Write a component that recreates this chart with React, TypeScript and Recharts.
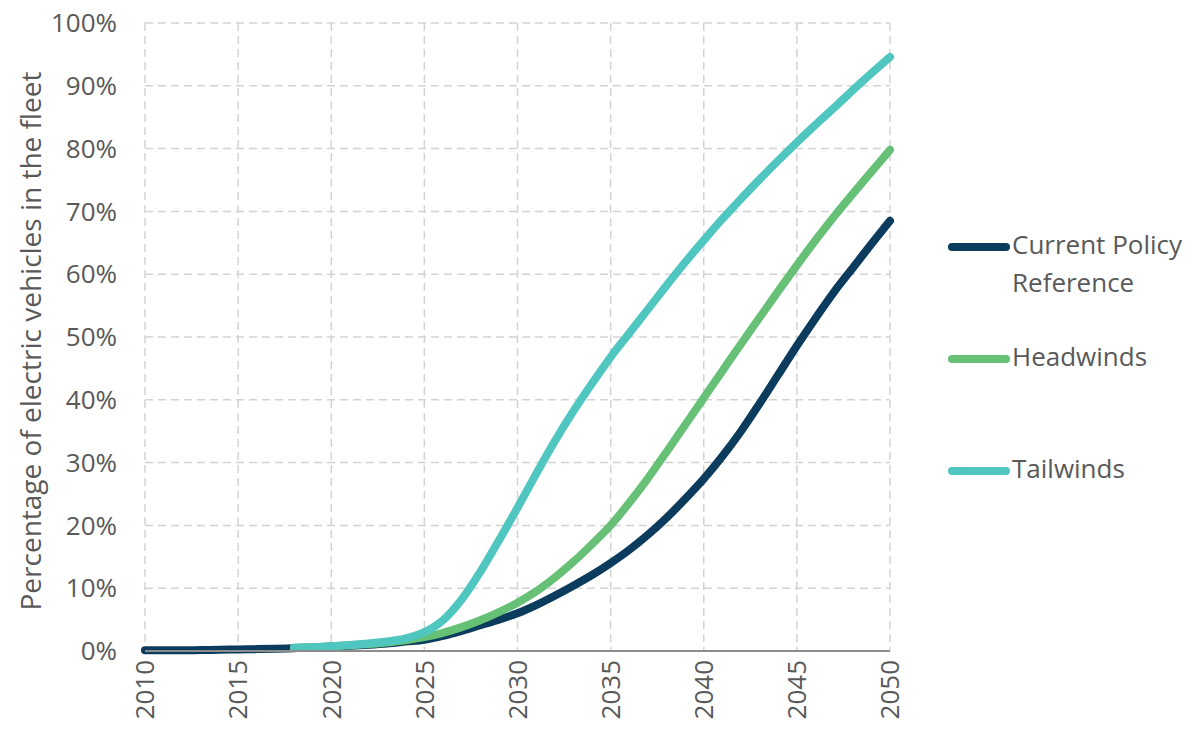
import { LineChart, Line, XAxis, YAxis, CartesianGrid } from "recharts";

const years = [
  2010, 2011, 2012, 2013, 2014, 2015, 2016, 2017, 2018, 2019,
  2020, 2021, 2022, 2023, 2024, 2025, 2026, 2027, 2028, 2029,
  2030, 2031, 2032, 2033, 2034, 2035, 2036, 2037, 2038, 2039,
  2040, 2041, 2042, 2043, 2044, 2045, 2046, 2047, 2048, 2049, 2050,
];

// share of EVs in the fleet, %
const currentPolicy = [
  0.1, 0.1, 0.1, 0.15, 0.2, 0.25, 0.3, 0.35, 0.45, 0.55,
  0.7, 0.85, 1.0, 1.2, 1.5, 1.8, 2.4, 3.2, 4.1, 5.0,
  6.0, 7.3, 8.8, 10.4, 12.1, 14.0, 16.1, 18.5, 21.2, 24.2,
  27.4, 31.0, 35.0, 39.4, 44.0, 48.6, 53.0, 57.2, 61.0, 64.8, 68.5,
];

const headwinds = [
  null, null, null, null, null, null, null, null, 0.5, 0.6,
  0.75, 0.9, 1.1, 1.35, 1.7, 2.2, 2.9, 3.8, 4.9, 6.2,
  7.7, 9.5, 11.7, 14.2, 17.0, 20.0, 23.6, 27.5, 31.7, 36.0,
  40.3, 44.6, 48.9, 53.1, 57.3, 61.4, 65.4, 69.2, 72.8, 76.3, 79.8,
];

const tailwinds = [
  null, null, null, null, null, null, null, null, 0.5, 0.6,
  0.75, 0.95, 1.2, 1.5, 2.0, 3.0, 4.9, 8.2, 12.6, 17.6,
  22.8, 28.2, 33.4, 38.2, 42.6, 46.8, 50.6, 54.4, 58.2, 61.9,
  65.4, 68.8, 72.0, 75.1, 78.1, 81.0, 83.8, 86.5, 89.3, 92.0, 94.6,
];

const yearTicks = [2010, 2015, 2020, 2025, 2030, 2035, 2040, 2045, 2050];
const shareTicks = [0, 10, 20, 30, 40, 50, 60, 70, 80, 90, 100];

const series = [
  { key: "current", label: ["Current Policy", "Reference"], color: "#0b3b5d" },
  { key: "headwinds", label: ["Headwinds"], color: "#66c177" },
  { key: "tailwinds", label: ["Tailwinds"], color: "#4fc6c0" },
];

const data = years.map((year, i) => ({
  year,
  current: currentPolicy[i],
  headwinds: headwinds[i],
  tailwinds: tailwinds[i],
}));

const FONT = "'Open Sans', sans-serif";
const TEXT = "#595959";

function YearTick({ x, y, payload }: any) {
  const ty = y + 1;
  return (
    <text
      x={x}
      y={ty}
      transform={`rotate(-90 ${x} ${ty})`}
      textAnchor="end"
      dy="0.36em"
      fill={TEXT}
      fontSize={26}
      fontFamily={FONT}
    >
      {payload.value}
    </text>
  );
}

function AxisTitle() {
  return (
    <text
      x={30}
      y={341}
      transform="rotate(-90 30 341)"
      textAnchor="middle"
      dominantBaseline="central"
      fill={TEXT}
      fontSize={28}
      fontFamily={FONT}
    >
      Percentage of electric vehicles in the fleet
    </text>
  );
}

const legendTops = [225, 337, 449];

export default function App() {
  return (
    <div style={{ position: "absolute", left: 0, top: 0, width: 1193, height: 735, background: "#fff" }}>
      <LineChart
        width={1193}
        height={735}
        data={data}
        margin={{ top: 23, right: 303, bottom: 0, left: 0 }}
      >
        <CartesianGrid stroke="#d3d3d3" strokeWidth={1.5} strokeDasharray="8 5" />
        <XAxis
          dataKey="year"
          type="number"
          domain={[2010, 2050]}
          ticks={yearTicks}
          interval={0}
          height={84}
          tickLine={false}
          axisLine={{ stroke: "#8c8c8c", strokeWidth: 2 }}
          tick={<YearTick />}
        />
        <YAxis
          type="number"
          domain={[0, 100]}
          ticks={shareTicks}
          interval={0}
          width={145}
          axisLine={false}
          tickLine={false}
          tickMargin={22}
          tickFormatter={(v: number) => `${v}%`}
          tick={{ fill: TEXT, fontSize: 26, fontFamily: FONT }}
          label={<AxisTitle />}
        />
        {series.map((s) => (
          <Line
            key={s.key}
            dataKey={s.key}
            type="monotone"
            stroke={s.color}
            strokeWidth={8}
            strokeLinecap="round"
            dot={false}
            activeDot={false}
            connectNulls={false}
            isAnimationActive={false}
          />
        ))}
      </LineChart>
      {series.map((s, i) => (
        <div
          key={s.key}
          style={{
            position: "absolute",
            left: 948,
            top: legendTops[i],
            display: "flex",
            alignItems: "flex-start",
            fontFamily: FONT,
            fontSize: 26,
            lineHeight: "38px",
            color: TEXT,
          }}
        >
          <div
            style={{
              width: 62,
              height: 8,
              borderRadius: 4,
              background: s.color,
              marginTop: 18,
              marginRight: 2,
            }}
          />
          <div>
            {s.label.map((t) => (
              <div key={t}>{t}</div>
            ))}
          </div>
        </div>
      ))}
    </div>
  );
}
